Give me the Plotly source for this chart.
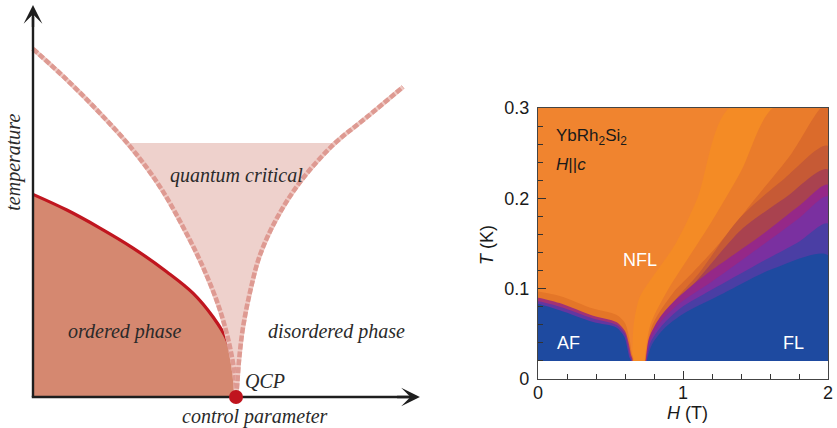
import numpy as np
import plotly.graph_objects as go

# ---------------- schematic phase diagram (left panel) ----------------
# ordered-phase boundary T_c(g), control parameter g (QCP at g = 1)
ORDER_G = [0.0, 0.167, 0.330, 0.493, 0.660, 0.788, 0.887, 0.956, 0.985, 0.997, 1.0]
ORDER_T = [0.517, 0.477, 0.431, 0.380, 0.319, 0.265, 0.204, 0.145, 0.087, 0.040, 0.0]

# crossover lines bounding the quantum critical fan
XOVER_LEFT_G = [0.0, 0.167, 0.330, 0.493, 0.626, 0.739, 0.837, 0.921, 0.970, 0.995, 1.0]
XOVER_LEFT_T = [0.888, 0.809, 0.724, 0.630, 0.536, 0.434, 0.332, 0.222, 0.128, 0.051, 0.0]
XOVER_RIGHT_G = [1.0, 1.005, 1.015, 1.034, 1.069, 1.118, 1.202, 1.315, 1.478, 1.645, 1.823]
XOVER_RIGHT_T = [0.0, 0.026, 0.094, 0.176, 0.268, 0.362, 0.457, 0.548, 0.643, 0.714, 0.791]
QC_TOP = 0.648          # upper edge of the shaded quantum critical region
QCP = (1.0, 0.0)
G_AXIS_END = 1.906
T_AXIS_END = 1.0

# ---------------- YbRh2Si2 H-T map (right panel) ----------------
T_MIN, T_MAX = 0.02, 0.30
H_MAX = 2.0

# contour lines on the high-field side (start at the bottom near H ~ 0.7 T)
NFL_H = [0.65, 0.66, 0.70, 0.80, 0.95, 1.10, 1.32]
NFL_T = [0.02, 0.06, 0.09, 0.115, 0.15, 0.20, 0.30]
X1_H = [0.735, 0.775, 0.90, 1.00, 1.20, 1.40, 1.62]
X1_T = [0.02, 0.06, 0.10, 0.125, 0.175, 0.23, 0.30]
X2_H = [0.738, 0.79, 0.93, 1.05, 1.25, 1.50, 1.75, 1.95]
X2_T = [0.02, 0.06, 0.095, 0.115, 0.15, 0.20, 0.25, 0.30]
X3_H = [0.74, 0.79, 0.95, 1.10, 1.39, 1.70, 2.00]
X3_T = [0.02, 0.05, 0.088, 0.115, 0.178, 0.222, 0.258]
X4_H = [0.742, 0.79, 0.95, 1.10, 1.40, 1.70, 2.00]
X4_T = [0.02, 0.047, 0.086, 0.11, 0.165, 0.20, 0.232]
X5_H = [0.744, 0.765, 0.84, 0.95, 1.16, 1.53, 1.81, 2.00]
X5_T = [0.02, 0.045, 0.068, 0.088, 0.116, 0.158, 0.193, 0.215]
X6_H = [0.746, 0.77, 0.85, 0.97, 1.20, 1.53, 1.80, 2.00]
X6_T = [0.02, 0.042, 0.064, 0.083, 0.108, 0.146, 0.178, 0.202]
X7_H = [0.748, 0.775, 0.86, 0.98, 1.20, 1.50, 1.80, 2.00]
X7_T = [0.02, 0.04, 0.06, 0.078, 0.099, 0.126, 0.152, 0.172]
FL_H = [0.75, 0.785, 0.87, 1.00, 1.28, 1.62, 2.00]
FL_T = [0.02, 0.038, 0.056, 0.072, 0.095, 0.122, 0.137]

# Neel line of the antiferromagnet and the layers above it (low-field side)
AF1_H = [0.0, 0.15, 0.38, 0.54, 0.60, 0.63, 0.645, 0.655]
AF1_T = [0.097, 0.092, 0.078, 0.071, 0.062, 0.045, 0.030, 0.02]
AF2_H = [0.0, 0.15, 0.38, 0.54, 0.60, 0.625, 0.64, 0.65]
AF2_T = [0.090, 0.084, 0.070, 0.063, 0.053, 0.040, 0.028, 0.02]
AF3_H = [0.0, 0.15, 0.38, 0.54, 0.60, 0.62, 0.635, 0.645]
AF3_T = [0.086, 0.080, 0.067, 0.060, 0.050, 0.038, 0.026, 0.02]
AF4_H = [0.0, 0.15, 0.38, 0.54, 0.595, 0.615, 0.63, 0.64]
AF4_T = [0.083, 0.076, 0.063, 0.057, 0.047, 0.035, 0.024, 0.02]

HIGH_FIELD = [(NFL_H, NFL_T), (X1_H, X1_T), (X2_H, X2_T), (X3_H, X3_T),
              (X4_H, X4_T), (X5_H, X5_T), (X6_H, X6_T), (X7_H, X7_T), (FL_H, FL_T)]
HIGH_FIELD_COLORS = ["#F48B25", "#EA7C2B", "#DB6B2B", "#C65A35", "#A9424F",
                     "#952888", "#7A30A0", "#4A3EA4", "#1E4AA0"]
LOW_FIELD = [(AF1_H, AF1_T), (AF2_H, AF2_T), (AF3_H, AF3_T), (AF4_H, AF4_T)]
LOW_FIELD_COLORS = ["#E47628", "#A23276", "#6436A0", "#1E4AA0"]
BASE_ORANGE = "#F0842F"

fig = go.Figure()

# ---- left panel ----
L = dict(xaxis="x", yaxis="y", hoverinfo="skip", showlegend=False)

# quantum critical fan
g_top_l = float(np.interp(QC_TOP, XOVER_LEFT_T[::-1], XOVER_LEFT_G[::-1]))
g_top_r = float(np.interp(QC_TOP, XOVER_RIGHT_T, XOVER_RIGHT_G))
fan_g = [g_top_l] + [g for g, t in zip(XOVER_LEFT_G, XOVER_LEFT_T) if t < QC_TOP] \
    + [g for g, t in zip(XOVER_RIGHT_G, XOVER_RIGHT_T) if t < QC_TOP][1:] + [g_top_r]
fan_t = [QC_TOP] + [t for t in XOVER_LEFT_T if t < QC_TOP] \
    + [t for t in XOVER_RIGHT_T if t < QC_TOP][1:] + [QC_TOP]
fig.add_trace(go.Scatter(x=fan_g, y=fan_t, mode="lines", fill="toself",
                         fillcolor="#EED1CC", line=dict(width=0, shape="spline"), **L))

# ordered phase
fig.add_trace(go.Scatter(x=ORDER_G, y=ORDER_T, mode="lines", fill="tozeroy",
                         fillcolor="#D58870",
                         line=dict(color="#C0161F", width=3.2, shape="spline"), **L))

# dashed crossover lines
for gs, ts in [(XOVER_LEFT_G, XOVER_LEFT_T), (XOVER_RIGHT_G, XOVER_RIGHT_T)]:
    fig.add_trace(go.Scatter(x=gs, y=ts, mode="lines",
                             line=dict(color="#EFC9C3", width=4.5, shape="spline"), **L))
    fig.add_trace(go.Scatter(x=gs, y=ts, mode="lines",
                             line=dict(color="#DE9A92", width=4.5, shape="spline",
                                       dash="6px,2px"), **L))

# axes
fig.add_trace(go.Scatter(x=[-0.006, G_AXIS_END - 0.04], y=[0, 0], mode="lines",
                         line=dict(color="#1E1E1E", width=2.4), **L))
fig.add_trace(go.Scatter(x=[0, 0], y=[0, T_AXIS_END - 0.03], mode="lines",
                         line=dict(color="#1E1E1E", width=2.4), **L))

# quantum critical point
fig.add_trace(go.Scatter(x=[QCP[0]], y=[QCP[1]], mode="markers",
                         marker=dict(color="#C0141E", size=14), cliponaxis=False, **L))

# ---- right panel ----
R = dict(xaxis="x2", yaxis="y2", hoverinfo="skip", showlegend=False, mode="lines")

fig.add_trace(go.Scatter(x=[0, H_MAX, H_MAX, 0], y=[T_MIN, T_MIN, T_MAX, T_MAX],
                         fill="toself", fillcolor=BASE_ORANGE, line=dict(width=0), **R))

for (hs, ts), col in zip(HIGH_FIELD, HIGH_FIELD_COLORS):
    xs, ys = list(hs), list(ts)
    if xs[-1] < H_MAX:
        xs.append(H_MAX + 0.05)
        ys.append(T_MAX + 0.01)
    xs += [H_MAX + 0.05]
    ys += [T_MIN]
    fig.add_trace(go.Scatter(x=xs, y=ys, fill="toself", fillcolor=col,
                             line=dict(width=0, shape="spline", smoothing=0.8), **R))

for (hs, ts), col in zip(LOW_FIELD, LOW_FIELD_COLORS):
    xs = [-0.05] + list(hs) + [-0.05]
    ys = [ts[0]] + list(ts) + [T_MIN]
    fig.add_trace(go.Scatter(x=xs, y=ys, fill="toself", fillcolor=col,
                             line=dict(width=0, shape="spline", smoothing=0.8), **R))

# no data below the base temperature
fig.add_trace(go.Scatter(x=[-0.05, H_MAX + 0.05, H_MAX + 0.05, -0.05],
                         y=[-0.01, -0.01, T_MIN, T_MIN], fill="toself",
                         fillcolor="white", line=dict(width=0), **R))

serif = "Liberation Serif, DejaVu Serif, serif"
sans = "Liberation Sans, Arial, sans-serif"
txt_l = dict(xref="x", yref="y", showarrow=False, yanchor="middle",
             font=dict(family=serif, size=20, color="#2A2A2A"))
lab_r = dict(xref="x2", yref="y2", showarrow=False, yanchor="middle",
             font=dict(family=sans, size=17, color="#1A1A1A"))
white_r = dict(xref="x2", yref="y2", showarrow=False, xanchor="center",
               yanchor="middle", font=dict(family=sans, size=18, color="white"))

annotations = [
    # arrowheads of the schematic axes
    dict(x=0, y=T_AXIS_END, ax=0, ay=T_AXIS_END - 0.06, xref="x", yref="y",
         axref="x", ayref="y", showarrow=True, arrowhead=3, arrowsize=1.3,
         arrowwidth=2.4, arrowcolor="#1E1E1E", text=""),
    dict(x=G_AXIS_END, y=0, ax=G_AXIS_END - 0.12, ay=0, xref="x", yref="y",
         axref="x", ayref="y", showarrow=True, arrowhead=3, arrowsize=1.3,
         arrowwidth=2.4, arrowcolor="#1E1E1E", text=""),
    dict(text="<i>temperature</i>", x=-0.094, y=0.600, textangle=-90,
         xanchor="center", **txt_l),
    dict(text="<i>quantum critical</i>", x=1.0, y=0.566, xanchor="center", **txt_l),
    dict(text="<i>ordered phase</i>", x=0.453, y=0.166, xanchor="center", **txt_l),
    dict(text="<i>disordered phase</i>", x=1.497, y=0.166, xanchor="center", **txt_l),
    dict(text="<i>QCP</i>", x=1.034, y=0.041, xanchor="left", **txt_l),
    dict(text="<i>control parameter</i>", x=1.094, y=-0.051, xanchor="center", **txt_l),
    # labels of the H-T map
    dict(text="YbRh<sub>2</sub>Si<sub>2</sub>", x=0.11, y=0.268, xanchor="left", **lab_r),
    dict(text="<i>H</i>||<i>c</i>", x=0.11, y=0.237, xanchor="left", **lab_r),
    dict(text="NFL", x=0.703, y=0.132, **white_r),
    dict(text="AF", x=0.207, y=0.040, **white_r),
    dict(text="FL", x=1.76, y=0.040, **white_r),
    dict(text="<i>T</i> (K)", x=487 / 837, y=(428 - 245) / 428, xref="paper",
         yref="paper", textangle=-90, showarrow=False, xanchor="center",
         yanchor="middle", font=dict(family=sans, size=18, color="#1A1A1A")),
    dict(text="<i>H</i> (T)", x=687 / 837, y=(428 - 413) / 428, xref="paper",
         yref="paper", showarrow=False, xanchor="center", yanchor="middle",
         font=dict(family=sans, size=18, color="#1A1A1A")),
]

W, Hpx = 837, 428
fig.update_layout(
    width=W, height=Hpx, margin=dict(l=0, r=0, t=0, b=0, pad=0, autoexpand=False),
    paper_bgcolor="white", plot_bgcolor="white",
    showlegend=False, annotations=annotations,
    xaxis=dict(domain=[0, 430 / W], range=[-33 / 203, (430 - 33) / 203],
               visible=False, fixedrange=True, automargin=False),
    yaxis=dict(domain=[0, 1], range=[(397 - 428) / 392, 397 / 392],
               visible=False, fixedrange=True, automargin=False),
    xaxis2=dict(domain=[538 / W, 828 / W], range=[0, H_MAX], anchor="y2",
                automargin=False, ticklabelstandoff=-3,
                tickmode="array", tickvals=[0, 1, 2], ticktext=["0", "1", "2"],
                ticks="inside", ticklen=8, tickwidth=1.2, tickcolor="#333",
                minor=dict(dtick=0.2, tick0=0, ticks="inside", ticklen=5,
                           tickwidth=1, tickcolor="#333"),
                showline=True, linecolor="#444", linewidth=1.3, mirror=True,
                showgrid=False, zeroline=False,
                tickfont=dict(family=sans, size=18, color="#1A1A1A")),
    yaxis2=dict(domain=[49 / Hpx, 320 / Hpx], range=[0, T_MAX], anchor="x2",
                automargin=False,
                tickmode="array", tickvals=[0, 0.1, 0.2, 0.3],
                ticktext=["0", "0.1", "0.2", "0.3"],
                ticks="inside", ticklen=8, tickwidth=1.2, tickcolor="#333",
                minor=dict(dtick=0.02, tick0=0, ticks="inside", ticklen=5,
                           tickwidth=1, tickcolor="#333"),
                showline=True, linecolor="#444", linewidth=1.3, mirror=True,
                showgrid=False, zeroline=False, ticklabelstandoff=4,
                tickfont=dict(family=sans, size=18, color="#1A1A1A")),
)

fig.write_html("out.html")
